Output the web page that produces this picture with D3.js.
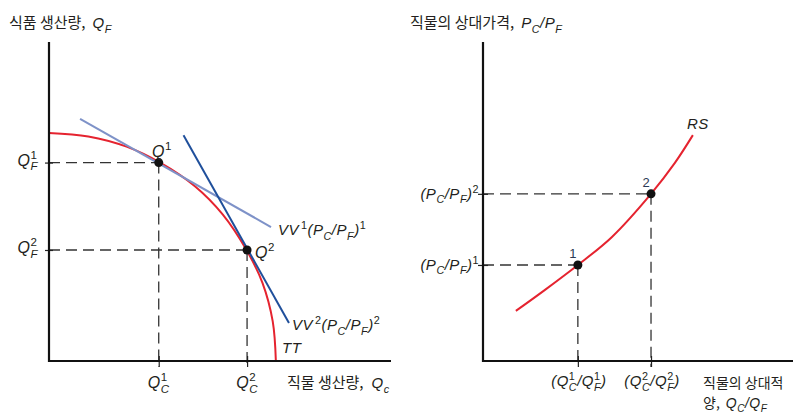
<!DOCTYPE html>
<html><head><meta charset="utf-8">
<script src="https://cdn.jsdelivr.net/npm/d3@7"></script>
<style>html,body{margin:0;padding:0;background:#fff;}svg{display:block;}</style>
</head><body>
<script>
// ---------- data ----------
// Left panel: production possibility frontier TT and two iso-value lines
const ttCurve = [[0,7.15],[1.38,7.04],[2.72,6.72],[3.9,6.22],[5.12,5.48],[6.10,4.59],[6.93,3.48],[7.49,2.45],[7.85,1.24],[7.96,0]];
const vv1Line = [[1.09,7.59],[7.79,4.20]];
const vv2Line = [[4.72,7.08],[8.42,1.19]];
const leftPoints = [{x:3.85, y:6.22, sup:"1"}, {x:6.95, y:3.48, sup:"2"}];
// Right panel: relative supply curve RS
const rsCurve = [[1.06,1.57],[2.0,2.23],[3.06,3.01],[4.16,3.89],[5.42,5.24],[6.19,6.21],[6.77,7.08]];
const rightPoints = [{x:3.06, y:3.01, label:"1"}, {x:5.42, y:5.24, label:"2"}];
const tickSups = ["1","2"];

// ---------- setup ----------
const W=806, H=420;
const RED="#e5232f", LBLUE="#7e92c8", DBLUE="#1f4f9b", TXT="#231f20";
const FL="'Liberation Sans', Arial, sans-serif";
const FK="'Noto Sans CJK KR', sans-serif";
const svg=d3.select("body").append("svg").attr("width",W).attr("height",H);

const xL=d3.scaleLinear().domain([0,12]).range([49,391]);
const yL=d3.scaleLinear().domain([0,10]).range([361,42]);
const xR=d3.scaleLinear().domain([0,10]).range([483,793]);
const yR=d3.scaleLinear().domain([0,10]).range([361,42]);

function rich(parent,x,y,parts,anchor,size,ls){
  size=size||15;
  const t=parent.append("text").attr("x",x).attr("y",y).attr("text-anchor",anchor||"start")
    .attr("fill",TXT).style("font-size",size+"px").style("font-family",FL);
  const lsp=(ls===undefined?0.5:ls)+"px";
  let off=0;
  const sh=v=>{const d=v-off;off=v;return d;};
  const up=-0.42*size, dn=0.3*size, ss=0.72*size;
  parts.forEach(p=>{
    const k=p[0];
    if(k==="k") t.append("tspan").attr("dy",sh(0)).style("font-family",FK).text(p[1]);
    else if(k==="i") t.append("tspan").attr("dy",sh(0)).attr("dx",p[2]||0).style("font-style","italic").style("letter-spacing",lsp).text(p[1]);
    else if(k==="u") t.append("tspan").attr("dy",sh(0)).text(p[1]);
    else if(k==="sup") t.append("tspan").attr("dy",sh(up)).attr("dx",p[2]||0).style("font-size",ss+"px").style("letter-spacing",lsp).text(p[1]);
    else if(k==="sub") t.append("tspan").attr("dy",sh(dn)).style("font-style","italic").style("letter-spacing",lsp).style("font-size",ss+"px").text(p[1]);
    else if(k==="ss"){
      const a=t.append("tspan").attr("dy",sh(up)).style("font-size",ss+"px").text(p[1]);
      const w=a.node().getComputedTextLength();
      t.append("tspan").attr("dx",-w).attr("dy",sh(dn)).style("font-style","italic").style("letter-spacing",lsp).style("font-size",ss+"px").text(p[2]);
    }
  });
  return t;
}

const dash=(g,x1,y1,x2,y2)=>g.append("line").attr("x1",x1).attr("y1",y1).attr("x2",x2).attr("y2",y2)
  .attr("stroke","#333").attr("stroke-width",1.3).attr("stroke-dasharray","11,6");

// ---------- left panel ----------
const gL=svg.append("g");
leftPoints.forEach(p=>{
  dash(gL,xL(0),yL(p.y),xL(p.x),yL(p.y));
  dash(gL,xL(p.x),yL(p.y),xL(p.x),367);
});
const lineL=d3.line().x(d=>xL(d[0])).y(d=>yL(d[1]));
gL.append("path").datum(ttCurve).attr("d",lineL.curve(d3.curveCatmullRom)).attr("fill","none").attr("stroke",RED).attr("stroke-width",2);
gL.append("path").datum(vv1Line).attr("d",d3.line().x(d=>xL(d[0])).y(d=>yL(d[1]))).attr("fill","none").attr("stroke",LBLUE).attr("stroke-width",2);
gL.append("path").datum(vv2Line).attr("d",d3.line().x(d=>xL(d[0])).y(d=>yL(d[1]))).attr("fill","none").attr("stroke",DBLUE).attr("stroke-width",2);

// axes
const axXL=gL.append("g").attr("transform",`translate(0,${yL(0)})`)
  .call(d3.axisBottom(xL).tickValues(leftPoints.map(p=>p.x)).tickSize(6).tickFormat(""));
axXL.select(".domain").remove();
axXL.selectAll(".tick line").attr("y1",-5).attr("y2",6).attr("stroke","#222").attr("stroke-width",1.2);
const axYL=gL.append("g").attr("transform",`translate(${xL(0)},0)`)
  .call(d3.axisLeft(yL).tickValues(leftPoints.map(p=>p.y)).tickSize(4).tickFormat(""));
axYL.select(".domain").remove();
axYL.selectAll(".tick line").attr("x1",-4).attr("x2",4).attr("stroke","#222").attr("stroke-width",1.2);
gL.append("line").attr("x1",xL(0)).attr("x2",xL(0)).attr("y1",42).attr("y2",yL(0)+1).attr("stroke","#111").attr("stroke-width",2.2);
gL.append("line").attr("x1",xL(0)-1).attr("x2",391).attr("y1",yL(0)).attr("y2",yL(0)).attr("stroke","#111").attr("stroke-width",2.2);

leftPoints.forEach(p=>gL.append("circle").attr("cx",xL(p.x)).attr("cy",yL(p.y)).attr("r",4.5).attr("fill","#111"));

// left labels
rich(gL,9,28,[["k","식품 생산량,"],["i","Q",7],["sub","F"]],"start",15);
leftPoints.forEach((p,i)=>{
  rich(gL,38,yL(p.y)+3,[["i","Q"],["ss",tickSups[i],"F"]],"end",16);
  rich(gL,xL(p.x),388,[["i","Q"],["ss",tickSups[i],"C"]],"middle",16);
});
rich(gL,152,157,[["i","Q"],["sup","1"]],"start",16);
rich(gL,255,258,[["i","Q"],["sup","2"]],"start",16);
rich(gL,278,235,[["i","VV"],["sup","1",2],["i","(P"],["sub","C"],["i","/P"],["sub","F"],["i",")"],["sup","1"]],"start",15);
rich(gL,292,330,[["i","VV"],["sup","2",2],["i","(P"],["sub","C"],["i","/P"],["sub","F"],["i",")"],["sup","2"]],"start",15);
rich(gL,282,353,[["i","TT"]],"start",15);
rich(gL,287,388,[["k","직물 생산량,"],["i","Q",8],["sub","c"]],"start",15);

// ---------- right panel ----------
const gR=svg.append("g");
rightPoints.forEach(p=>{
  dash(gR,xR(0),yR(p.y),xR(p.x),yR(p.y));
  dash(gR,xR(p.x),yR(p.y),xR(p.x),367);
});
gR.append("path").datum(rsCurve).attr("d",d3.line().x(d=>xR(d[0])).y(d=>yR(d[1])).curve(d3.curveCatmullRom))
  .attr("fill","none").attr("stroke",RED).attr("stroke-width",2);
const axXR=gR.append("g").attr("transform",`translate(0,${yR(0)})`)
  .call(d3.axisBottom(xR).tickValues(rightPoints.map(p=>p.x)).tickSize(6).tickFormat(""));
axXR.select(".domain").remove();
axXR.selectAll(".tick line").attr("y1",-5).attr("y2",6).attr("stroke","#222").attr("stroke-width",1.2);
const axYR=gR.append("g").attr("transform",`translate(${xR(0)},0)`)
  .call(d3.axisLeft(yR).tickValues(rightPoints.map(p=>p.y)).tickSize(4).tickFormat(""));
axYR.select(".domain").remove();
axYR.selectAll(".tick line").attr("x1",-5).attr("x2",5).attr("stroke","#222").attr("stroke-width",1.2);
gR.append("line").attr("x1",xR(0)).attr("x2",xR(0)).attr("y1",42).attr("y2",yR(0)+1).attr("stroke","#111").attr("stroke-width",2.2);
gR.append("line").attr("x1",xR(0)-1).attr("x2",793).attr("y1",yR(0)).attr("y2",yR(0)).attr("stroke","#111").attr("stroke-width",2.2);
rightPoints.forEach(p=>{
  gR.append("circle").attr("cx",xR(p.x)).attr("cy",yR(p.y)).attr("r",4.5).attr("fill","#111");
  gR.append("text").attr("x",xR(p.x)-5).attr("y",yR(p.y)-7).attr("text-anchor","middle")
    .style("font-family",FL).style("font-size","13px").attr("fill","#2b3a55").text(p.label);
});
rich(gR,410,28,[["k","직물의 상대가격,"],["i","P",7],["sub","C"],["i","/P"],["sub","F"]],"start",15);
rightPoints.forEach((p,i)=>{
  rich(gR,479,yR(p.y)+5,[["i","(P"],["sub","C"],["i","/P"],["sub","F"],["i",")"],["sup",tickSups[i]]],"end",15);
  rich(gR,xR(p.x)+1,386,[["i","(Q"],["ss",tickSups[i],"C"],["i","/Q"],["ss",tickSups[i],"F"],["i",")"]],"middle",15);
});
rich(gR,687,129,[["i","RS"]],"start",15);
rich(gR,703,388,[["k","직물의 상대적"]],"start",14);
rich(gR,703,408,[["k","양,"],["i","Q",6],["sub","C"],["i","/Q"],["sub","F"]],"start",14);
</script>
</body></html>
